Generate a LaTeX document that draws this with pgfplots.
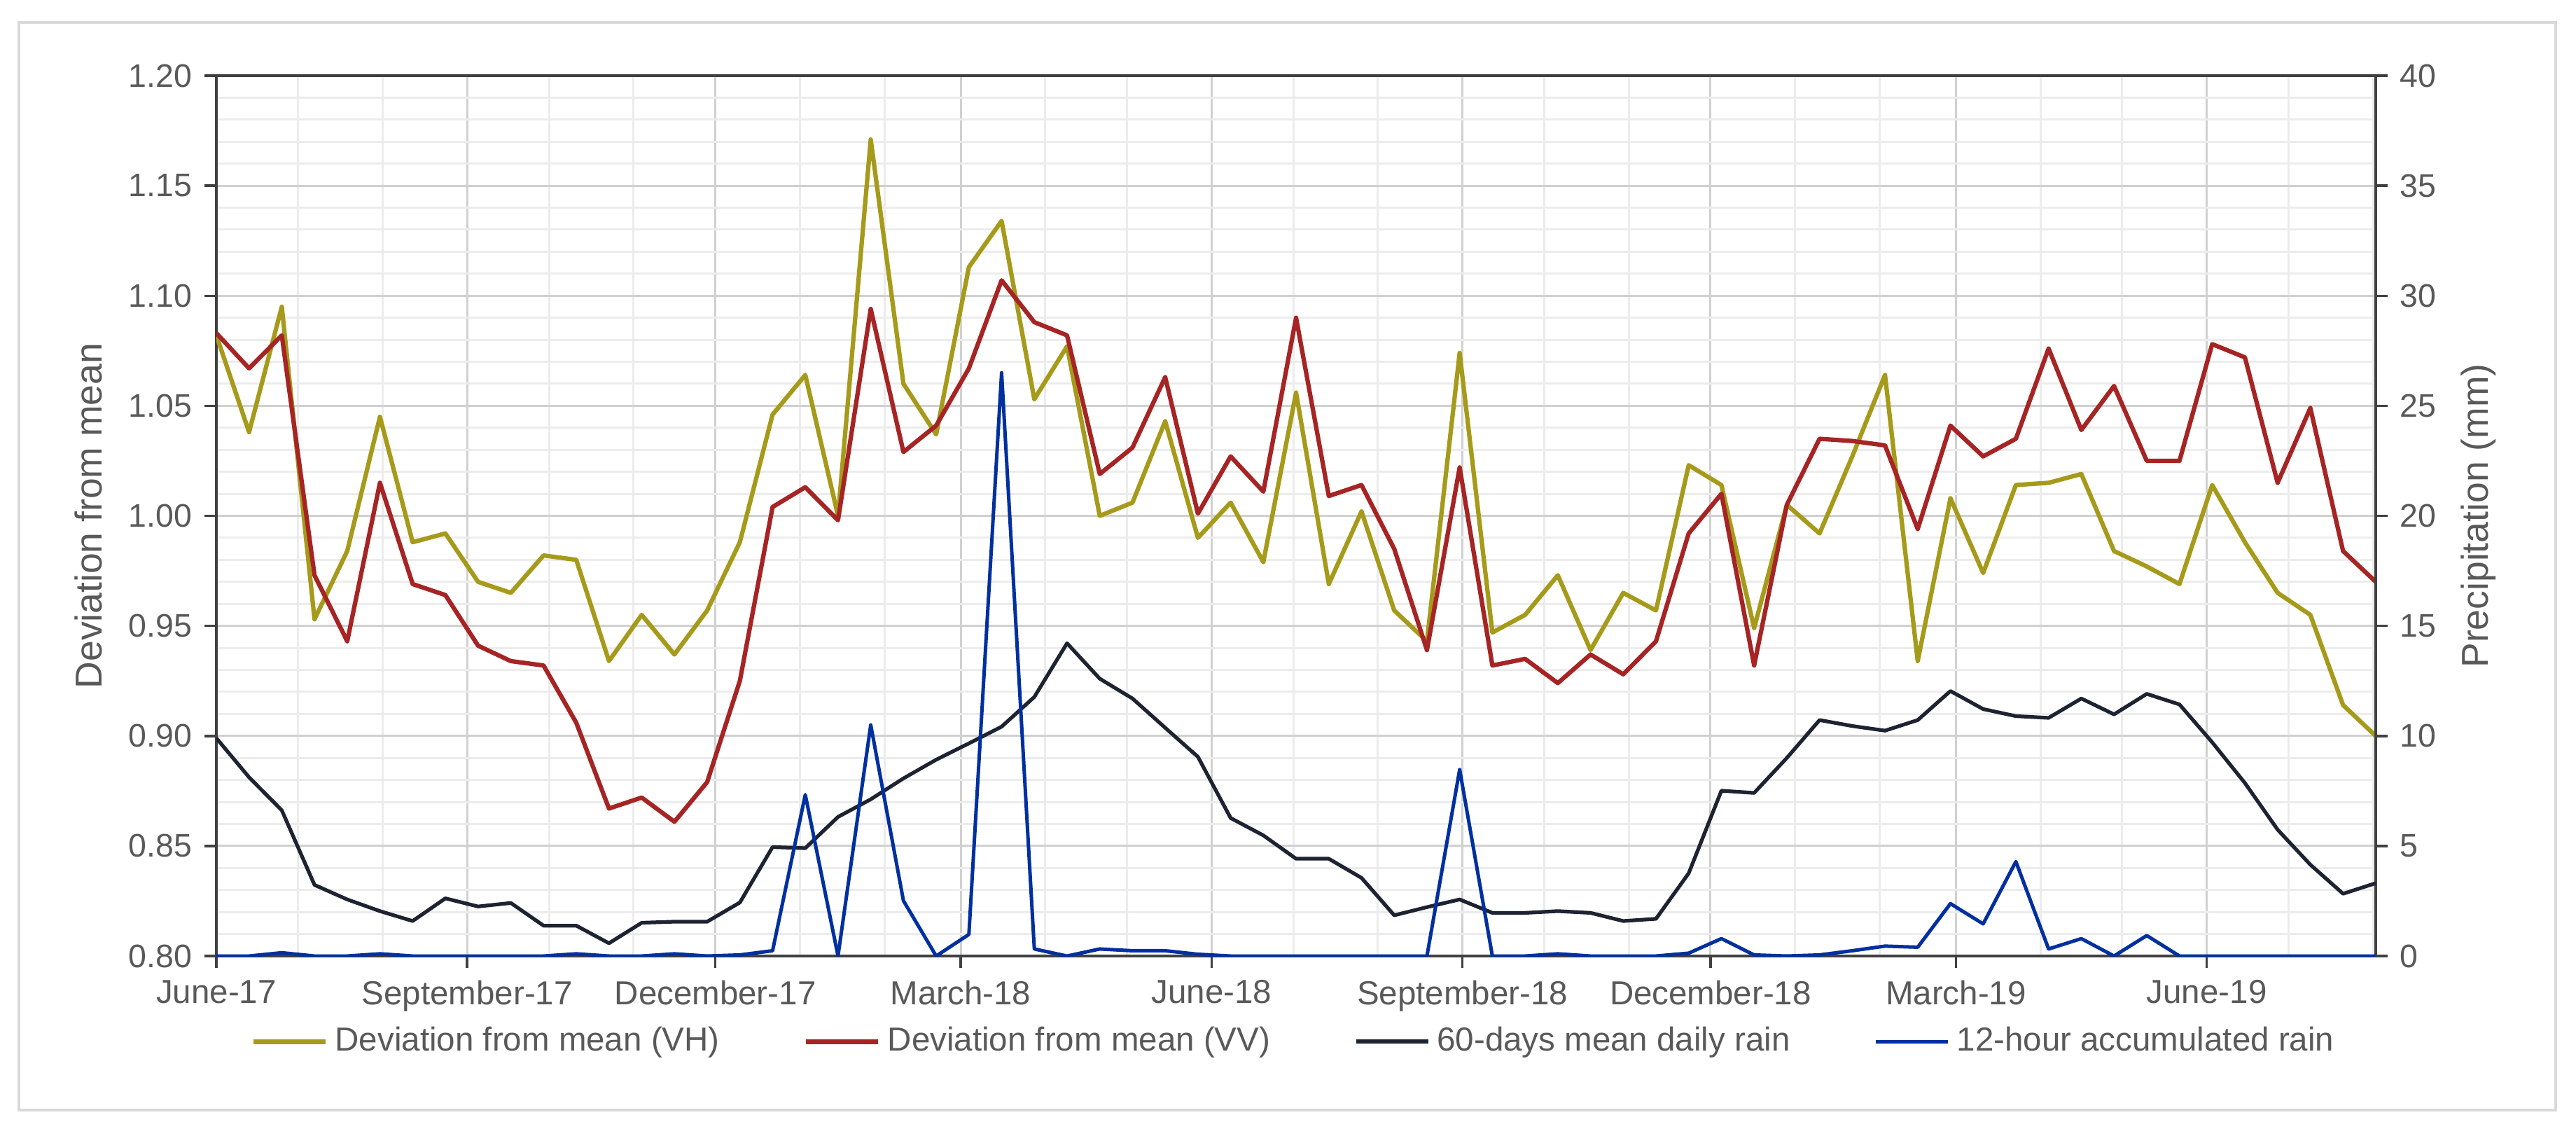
\documentclass[border=0pt]{standalone}
\usepackage{fontspec}
\setmainfont{Liberation Sans}
\usepackage{pgfplots}
\pgfplotsset{compat=1.18}
\usepackage{pgfplotstable}

\definecolor{vh}{RGB}{166,154,26}
\definecolor{vv}{RGB}{166,36,36}
\definecolor{mean60}{RGB}{30,35,50}
\definecolor{rain12}{RGB}{0,48,160}
\definecolor{txt}{RGB}{89,89,89}
\definecolor{axl}{RGB}{64,64,64}
\definecolor{gmaj}{RGB}{208,208,208}
\definecolor{gmin}{RGB}{236,236,236}
\definecolor{frame}{RGB}{217,217,217}

\pgfplotstableread{
day vh vv mean rain
0 1.082 1.083 9.90 0.00
12 1.038 1.067 8.12 0.00
24 1.095 1.082 6.62 0.15
36 0.953 0.973 3.23 0.00
48 0.984 0.943 2.57 0.00
60 1.045 1.015 2.04 0.10
72 0.988 0.969 1.59 0.00
84 0.992 0.964 2.62 0.00
96 0.970 0.941 2.25 0.00
108 0.965 0.934 2.41 0.00
120 0.982 0.932 1.38 0.00
132 0.980 0.906 1.38 0.10
144 0.934 0.867 0.58 0.00
156 0.955 0.872 1.51 0.00
168 0.937 0.861 1.56 0.10
180 0.957 0.879 1.56 0.00
192 0.988 0.925 2.43 0.05
204 1.046 1.004 4.95 0.24
216 1.064 1.013 4.90 7.33
228 1.000 0.998 6.32 0.00
240 1.171 1.094 7.12 10.50
252 1.060 1.029 8.07 2.51
264 1.037 1.041 8.92 0.00
276 1.113 1.067 9.66 0.98
288 1.134 1.107 10.42 26.50
300 1.053 1.088 11.77 0.32
312 1.077 1.082 14.21 0.00
324 1.000 1.019 12.60 0.32
336 1.006 1.031 11.70 0.24
348 1.043 1.063 10.37 0.24
360 0.990 1.001 9.05 0.08
372 1.006 1.027 6.27 0.00
384 0.979 1.011 5.48 0.00
396 1.056 1.090 4.42 0.00
408 0.969 1.009 4.42 0.00
420 1.002 1.014 3.55 0.00
432 0.957 0.985 1.85 0.00
444 0.943 0.939 2.22 0.00
456 1.074 1.022 2.57 8.47
468 0.947 0.932 1.96 0.00
480 0.955 0.935 1.96 0.00
492 0.973 0.924 2.04 0.10
504 0.939 0.937 1.96 0.00
516 0.965 0.928 1.59 0.00
528 0.957 0.943 1.69 0.00
540 1.023 0.992 3.76 0.13
552 1.014 1.010 7.51 0.79
564 0.949 0.932 7.41 0.05
576 1.005 1.005 9.00 0.00
588 0.992 1.035 10.72 0.05
600 1.027 1.034 10.45 0.24
612 1.064 1.032 10.24 0.45
624 0.934 0.994 10.72 0.40
636 1.008 1.041 12.04 2.38
648 0.974 1.027 11.22 1.46
660 1.014 1.035 10.90 4.29
672 1.015 1.076 10.82 0.32
684 1.019 1.039 11.70 0.79
696 0.984 1.059 10.98 0.00
708 0.977 1.025 11.91 0.93
720 0.969 1.025 11.43 0.00
732 1.014 1.078 9.71 0.00
744 0.988 1.072 7.86 0.00
756 0.965 1.015 5.74 0.00
768 0.955 1.049 4.15 0.00
780 0.914 0.984 2.83 0.00
792 0.900 0.970 3.31 0.00
}\data

\newcommand{\chartfont}{\fontsize{9.5}{11.4}\selectfont}
\newcommand{\tickfont}{\fontsize{9.3}{11.2}\selectfont}
\newcommand{\labelfont}{\fontsize{10.7}{12.8}\selectfont}

\begin{document}
\begin{tikzpicture}
\useasboundingbox (-61.8pt,-51.2pt) rectangle (674pt,273pt);
\fill[white] (-61.8pt,-51.2pt) rectangle (674pt,273pt);
\draw[line width=0.7pt, frame] (-56.4pt,-44pt) rectangle (668.2pt,266.6pt);

\begin{axis}[
  at={(0,0)}, anchor=south west,
  width=616.8pt, height=251.4pt, scale only axis,
  xmin=0, xmax=792, ymin=0.8, ymax=1.2,
  xtick={0,92,183,273,365,457,548,638,730},
  xticklabels={June-17,September-17,December-17,March-18,June-18,September-18,December-18,March-19,June-19},
  minor xtick={30,61,122,153,214,245,304,334,395,426,487,518,579,610,669,699,760,791},
  ytick={0.80,0.85,0.90,0.95,1.00,1.05,1.10,1.15,1.20},
  yticklabels={0.80,0.85,0.90,0.95,1.00,1.05,1.10,1.15,1.20},
  minor y tick num=4,
  grid=both,
  major grid style={draw=gmaj, line width=0.6pt},
  minor grid style={draw=gmin, line width=0.6pt},
  tick align=outside, major tick length=3.4pt, minor tick length=0pt,
  xtick pos=left, ytick pos=left,
  axis line style={draw=axl, line width=0.7pt},
  every tick/.style={draw=axl, line width=0.7pt},
  tick label style={font=\tickfont, text=txt},
  xticklabel style={font=\chartfont},
  ylabel={Deviation from mean},
  ylabel style={font=\labelfont, text=txt, at={(axis description cs:0,0.5)}, anchor=center, yshift=36.6pt},
  line join=round,
]
\addplot[vh, line width=1.25pt, mark=none] table[x=day, y=vh] {\data};
\addplot[vv, line width=1.25pt, mark=none] table[x=day, y=vv] {\data};
\end{axis}

\begin{axis}[
  at={(0,0)}, anchor=south west,
  width=616.8pt, height=251.4pt, scale only axis,
  xmin=0, xmax=792, ymin=0, ymax=40,
  axis y line*=right, axis x line=none,
  ytick={0,5,10,15,20,25,30,35,40},
  yticklabels={0,5,10,15,20,25,30,35,40},
  tick align=outside, major tick length=3.4pt,
  axis line style={draw=axl, line width=0.7pt},
  every tick/.style={draw=axl, line width=0.7pt},
  tick label style={font=\tickfont, text=txt},
  ylabel={Precipitation (mm)},
  ylabel style={font=\labelfont, text=txt, at={(axis description cs:1,0.5)}, anchor=center, yshift=-29.4pt},
  line join=round,
  legend columns=4,
  legend style={at={(axis description cs:0.5,0)}, anchor=center, yshift=-24.4pt,
    draw=none, fill=none, font=\chartfont, text=txt,
    /tikz/every even column/.append style={column sep=22pt}},
  legend image code/.code={\draw[#1] (0pt,0pt) -- (20.6pt,0pt);},
]
\addlegendimage{vh, line width=1.4pt}
\addlegendentry{Deviation from mean (VH)}
\addlegendimage{vv, line width=1.4pt}
\addlegendentry{Deviation from mean (VV)}
\addplot[mean60, line width=1.05pt, mark=none] table[x=day, y=mean] {\data};
\addlegendentry{60-days mean daily rain}
\addplot[rain12, line width=1.0pt, mark=none] table[x=day, y=rain] {\data};
\addlegendentry{12-hour accumulated rain}
\end{axis}
\end{tikzpicture}
\end{document}
